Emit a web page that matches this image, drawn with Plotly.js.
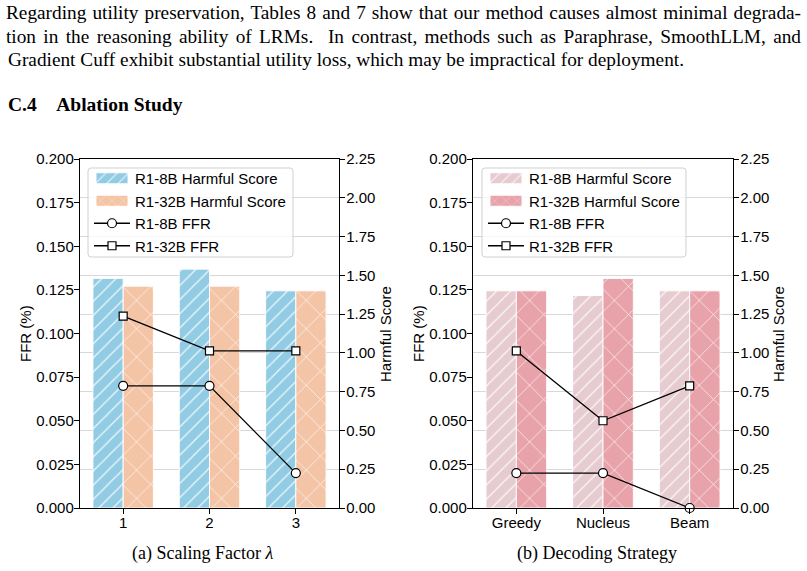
<!DOCTYPE html>
<html>
<head>
<meta charset="utf-8">
<script src="https://cdn.plot.ly/plotly-3.0.1.min.js"></script>
<style>html,body{margin:0;padding:0;background:#fff;}#chart{width:807px;height:571px;}</style>
</head>
<body>
<div id="chart"></div>
<script>
// ---- data ----
const catsA = ['1', '2', '3'];
const catsB = ['Greedy', 'Nucleus', 'Beam'];
const harmA8 = [1.48, 1.54, 1.40];
const harmA32 = [1.43, 1.43, 1.40];
const ffrA8 = [0.07, 0.07, 0.02];
const ffrA32 = [0.11, 0.09, 0.09];
const harmB8 = [1.40, 1.37, 1.40];
const harmB32 = [1.40, 1.48, 1.40];
const ffrB8 = [0.02, 0.02, 0.0];
const ffrB32 = [0.09, 0.05, 0.07];
const names = ['R1-8B Harmful Score', 'R1-32B Harmful Score', 'R1-8B FFR', 'R1-32B FFR'];
const paraLines = [
  'Regarding utility preservation, Tables 8 and 7 show that our method causes almost minimal degrada-',
  'tion in the reasoning ability of LRMs.  In contrast, methods such as Paraphrase, SmoothLLM, and',
  'Gradient Cuff exhibit substantial utility loss, which may be impractical for deployment.'
];
const heading = 'C.4    Ablation Study';
const captions = ['(a) Scaling Factor <i>λ</i>', '(b) Decoding Strategy'];

const W = 807, H = 571;
const SANS = 'Liberation Sans, Arial, sans-serif';
const SERIF = 'Liberation Serif, Times New Roman, serif';
const FS = 15;

function barTrace(x, y, name, color, shape, size, xa, ya, leg) {
  return {
    type: 'bar', x: x, y: y, name: name, xaxis: xa, yaxis: ya, legend: leg,
    marker: {
      color: color,
      line: {color: 'rgba(255,255,255,0.9)', width: 1},
      pattern: {shape: shape, bgcolor: color, fgcolor: '#ffffff', fgopacity: 0.85, size: size,
                solidity: shape === 'x' ? 0.07 : 0.12, fillmode: 'replace'}
    }
  };
}
function lineTrace(x, y, name, symbol, xa, ya, leg) {
  return {
    type: 'scatter', mode: 'lines+markers', x: x, y: y, name: name, xaxis: xa, yaxis: ya, legend: leg,
    line: {color: '#000', width: 1.3},
    marker: {symbol: symbol, size: symbol === 'circle' ? 9 : 8, color: '#fff', line: {color: '#000', width: 1.2}},
    cliponaxis: false
  };
}

const data = [
  barTrace(catsA, harmA8, names[0], '#92CCE4', '/', 10, 'x', 'y', 'legend'),
  barTrace(catsA, harmA32, names[1], '#F4C4A6', 'x', 20, 'x', 'y', 'legend'),
  lineTrace(catsA, ffrA8, names[2], 'circle', 'x', 'y2', 'legend'),
  lineTrace(catsA, ffrA32, names[3], 'square', 'x', 'y2', 'legend'),
  barTrace(catsB, harmB8, names[0], '#E6CCD0', '/', 10, 'x2', 'y3', 'legend2'),
  barTrace(catsB, harmB32, names[1], '#E8A2A9', 'x', 20, 'x2', 'y3', 'legend2'),
  lineTrace(catsB, ffrB8, names[2], 'circle', 'x2', 'y4', 'legend2'),
  lineTrace(catsB, ffrB32, names[3], 'square', 'x2', 'y4', 'legend2')
];

const yTop = 1 - 159 / H, yBot = 1 - 508 / H;
const domA = [80 / W, 339 / W], domB = [473 / W, 733 / W];

function xAxis(dom, anchor) {
  return {
    domain: dom, anchor: anchor, type: 'category', range: [-0.5, 2.5],
    showline: true, linecolor: '#000', linewidth: 1.2, mirror: true,
    ticks: 'outside', ticklen: 5, tickwidth: 1, tickcolor: '#000', ticklabelstandoff: -4,
    tickfont: {family: SANS, size: FS, color: '#000'}, showgrid: false, zeroline: false
  };
}
function rightAxis(anchor) {
  return {
    domain: [yBot, yTop], anchor: anchor, side: 'right', range: [0, 2.25], dtick: 0.25, tick0: 0,
    tickformat: '.2f', showline: true, linecolor: '#000', linewidth: 1.2,
    ticks: 'outside', ticklen: 5, tickwidth: 1, tickcolor: '#000', ticklabelstandoff: -2,
    tickfont: {family: SANS, size: FS, color: '#000'},
    showgrid: true, gridcolor: '#d8d8d8', gridwidth: 1, zeroline: false
  };
}
function leftAxis(anchor, over) {
  return {
    domain: [yBot, yTop], anchor: anchor, overlaying: over, side: 'left', range: [0, 0.2], dtick: 0.025, tick0: 0,
    tickformat: '.3f', showline: true, linecolor: '#000', linewidth: 1.2,
    ticks: 'outside', ticklen: 5, tickwidth: 1, tickcolor: '#000', ticklabelstandoff: -3,
    tickfont: {family: SANS, size: FS, color: '#000'},
    showgrid: false, zeroline: false
  };
}
function legendCfg(xpx) {
  return {
    x: xpx / W, y: 1 - 162 / H, xanchor: 'left', yanchor: 'top',
    bgcolor: 'rgba(0,0,0,0)', borderwidth: 0,
    font: {family: SANS, size: FS, color: '#000'}, itemwidth: 36, tracegroupgap: 0
  };
}
function roundRect(x0, y0, x1, y1, r) {
  const px = v => (v / W).toFixed(5), py = v => (1 - v / H).toFixed(5);
  return 'M' + px(x0 + r) + ',' + py(y0) + ' L' + px(x1 - r) + ',' + py(y0) +
    ' Q' + px(x1) + ',' + py(y0) + ' ' + px(x1) + ',' + py(y0 + r) +
    ' L' + px(x1) + ',' + py(y1 - r) + ' Q' + px(x1) + ',' + py(y1) + ' ' + px(x1 - r) + ',' + py(y1) +
    ' L' + px(x0 + r) + ',' + py(y1) + ' Q' + px(x0) + ',' + py(y1) + ' ' + px(x0) + ',' + py(y1 - r) +
    ' L' + px(x0) + ',' + py(y0 + r) + ' Q' + px(x0) + ',' + py(y0) + ' ' + px(x0 + r) + ',' + py(y0) + ' Z';
}
const shapes = [
  {type: 'path', xref: 'paper', yref: 'paper', path: roundRect(88, 168, 293, 257, 3),
   fillcolor: 'rgba(255,255,255,0.8)', line: {color: '#d0d0d0', width: 1}, layer: 'above'},
  {type: 'path', xref: 'paper', yref: 'paper', path: roundRect(482, 168, 686, 257, 3),
   fillcolor: 'rgba(255,255,255,0.8)', line: {color: '#d0d0d0', width: 1}, layer: 'above'}
];

const annotations = [];
const paraY = [13, 36, 59];
paraLines.forEach((t, i) => annotations.push({
  text: t, xref: 'paper', yref: 'paper', x: 6 / W, y: 1 - paraY[i] / H, xanchor: 'left', yanchor: 'middle',
  showarrow: false, font: {family: SERIF, size: 19.3, color: '#000'}
}));
annotations.push({
  text: '<b>' + heading.replace(/ /g, '&nbsp;') + '</b>', xref: 'paper', yref: 'paper', x: 6 / W, y: 1 - 104 / H,
  xanchor: 'left', yanchor: 'middle', showarrow: false, font: {family: SERIF, size: 19.5, color: '#000'}
});
const axTitles = [
  ['FFR (%)', 25], ['Harmful Score', 385], ['FFR (%)', 418], ['Harmful Score', 778]
];
axTitles.forEach(([t, xp]) => annotations.push({
  text: t, xref: 'paper', yref: 'paper', x: xp / W, y: 1 - 334 / H, xanchor: 'center', yanchor: 'middle',
  textangle: -90, showarrow: false, font: {family: SANS, size: FS, color: '#000'}
}));
const capX = [202, 597];
captions.forEach((t, i) => annotations.push({
  text: t, xref: 'paper', yref: 'paper', x: capX[i] / W, y: 1 - 553 / H, xanchor: 'center', yanchor: 'middle',
  showarrow: false, font: {family: SERIF, size: 18, color: '#000'}
}));

const layout = {
  width: W, height: H, margin: {l: 0, r: 0, t: 0, b: 0},
  paper_bgcolor: '#fff', plot_bgcolor: 'rgba(0,0,0,0)',
  barmode: 'group', bargap: 0.3, bargroupgap: 0,
  showlegend: true,
  xaxis: xAxis(domA, 'y'),
  yaxis: rightAxis('x'),
  yaxis2: leftAxis('x', 'y'),
  xaxis2: xAxis(domB, 'y3'),
  yaxis3: rightAxis('x2'),
  yaxis4: leftAxis('x2', 'y3'),
  legend: legendCfg(89),
  legend2: legendCfg(483),
  shapes: shapes,
  annotations: annotations
};

Plotly.newPlot('chart', data, layout, {staticPlot: true, displayModeBar: false}).then(gd => {
  // full justification of the first two paragraph lines (as in the typeset page)
  const leftX = 6, rightX = 801;
  const texts = gd.querySelectorAll('.annotation-text');
  [0, 1].forEach(i => {
    const el = texts[i];
    if (!el || !el.getComputedTextLength) return;
    const len = el.getComputedTextLength();
    const nSpaces = (paraLines[i].match(/ /g) || []).length;
    const extra = (rightX - leftX) - len;
    if (nSpaces > 0 && extra > 0) {
      el.style.wordSpacing = (extra / nSpaces).toFixed(3) + 'px';
      const bb = el.getBoundingClientRect();
      const host = gd.getBoundingClientRect();
      const dx = leftX - (bb.left - host.left);
      const prev = el.getAttribute('transform') || '';
      el.setAttribute('transform', prev + ' translate(' + dx.toFixed(2) + ',0)');
    }
  });
  // wide rectangular swatches for the bar entries in both legends
  gd.querySelectorAll('.legendpoints path').forEach(p => {
    const d = (p.getAttribute('d') || '').replace(/\s/g, '');
    if (d === 'M6,6H-6V-6H6Z') p.setAttribute('d', 'M16,5.5H-16V-5.5H16Z');
  });
});
</script>
</body>
</html>
